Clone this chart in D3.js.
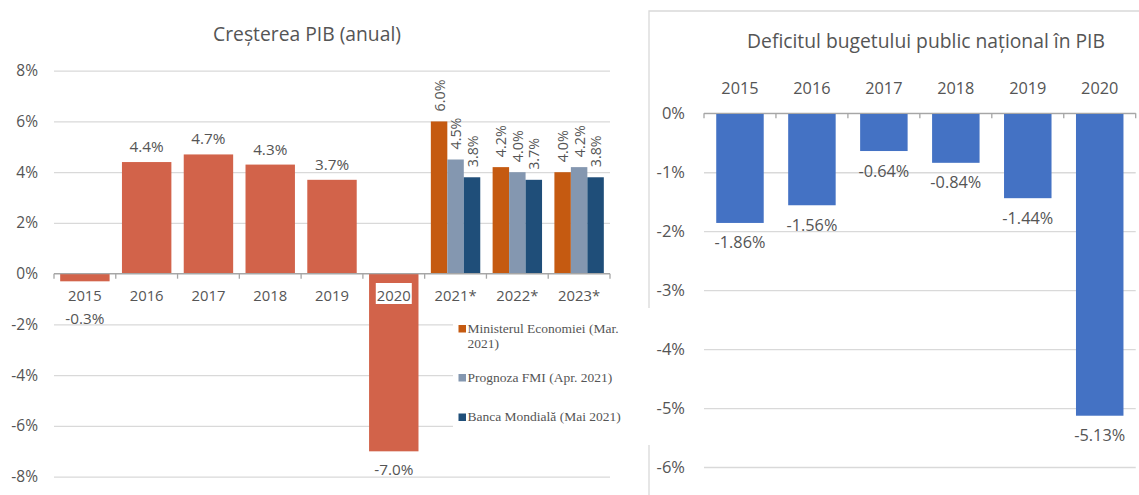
<!DOCTYPE html>
<html>
<head>
<meta charset="utf-8">
<script src="https://cdn.jsdelivr.net/npm/d3@7"></script>
<style>
  body { margin: 0; background: #fff; }
  text { font-family: "Open Sans", sans-serif; fill: #555555; }
</style>
</head>
<body>
<svg id="chart" width="1139" height="495"></svg>
<script>
// left chart: GDP growth
const gdpYears = ["2015", "2016", "2017", "2018", "2019", "2020", "2021*", "2022*", "2023*"];
const gdpActual = [-0.3, 4.4, 4.7, 4.3, 3.7, -7.0, null, null, null];
const forecastNames = ["Ministerul Economiei (Mar. 2021)", "Prognoza FMI (Apr. 2021)", "Banca Mondială (Mai 2021)"];
const forecastMinEc = [6.0, 4.2, 4.0];   // 2021*, 2022*, 2023*
const forecastFmi = [4.5, 4.0, 4.2];
const forecastBm = [3.8, 3.7, 3.8];
const gdpTicks = [-8, -6, -4, -2, 0, 2, 4, 6, 8];

// right chart: budget deficit
const defYears = ["2015", "2016", "2017", "2018", "2019", "2020"];
const defValues = [-1.86, -1.56, -0.64, -0.84, -1.44, -5.13];
const defTicks = [-6, -5, -4, -3, -2, -1, 0];

const svg = d3.select("#chart");
const gridColor = "#d9d9d9";
const axisColor = "#a6a6a6";
const barColor = "#d2634a";
const seriesColors = ["#c55a11", "#8497b0", "#1f4e79"];

// ---------- left chart ----------
const xL = d3.scaleBand().domain(gdpYears).range([54, 610]).paddingInner(0.2).paddingOuter(0.1);
const yL = d3.scaleLinear().domain([-8, 8]).range([476.7, 70.7]);
const xSub = d3.scaleBand().domain(forecastNames).range([0, xL.bandwidth()]);

svg.append("text")
  .attr("x", 307).attr("y", 33)
  .attr("text-anchor", "middle").attr("dominant-baseline", "central")
  .style("font-size", "19.3px")
  .text("Creșterea PIB (anual)");

const gL = svg.append("g");
gL.append("g")
  .attr("transform", "translate(54,0)")
  .call(d3.axisLeft(yL).tickValues(gdpTicks).tickSize(-556).tickPadding(16).tickFormat(d => d + "%"))
  .call(g => g.select(".domain").remove())
  .call(g => g.selectAll("line").attr("stroke", gridColor).attr("stroke-width", 1.3))
  .call(g => g.selectAll("text").style("font-size", "15.5px").attr("fill", "#555555"));

// actual bars
const actual = gdpYears.map((d, i) => ({ year: d, v: gdpActual[i] })).filter(d => d.v != null);
gL.selectAll(".bar").data(actual).enter().append("rect")
  .attr("x", d => xL(d.year))
  .attr("width", xL.bandwidth())
  .attr("y", d => yL(Math.max(0, d.v)))
  .attr("height", d => Math.abs(yL(d.v) - yL(0)))
  .attr("fill", barColor);

// forecast bars
const forecast = [];
[forecastMinEc, forecastFmi, forecastBm].forEach((arr, s) => {
  arr.forEach((v, i) => forecast.push({ year: gdpYears[6 + i], s: s, v: v }));
});
gL.selectAll(".fbar").data(forecast).enter().append("rect")
  .attr("x", d => xL(d.year) + xSub(forecastNames[d.s]))
  .attr("width", xSub.bandwidth())
  .attr("y", d => yL(d.v))
  .attr("height", d => yL(0) - yL(d.v))
  .attr("fill", d => seriesColors[d.s]);

// axis at zero
const y0 = yL(0);
gL.append("line").attr("x1", 54).attr("x2", 610).attr("y1", y0).attr("y2", y0)
  .attr("stroke", axisColor).attr("stroke-width", 1.3);
const bL = gdpYears.map(d => xL(d) - xL.step() * xL.paddingInner() / 2);
bL.push(610);
gL.selectAll(".tk").data(bL).enter().append("line")
  .attr("x1", d => d).attr("x2", d => d).attr("y1", y0).attr("y2", y0 + 5)
  .attr("stroke", axisColor).attr("stroke-width", 1.3);

// category labels
gdpYears.forEach(d => {
  const cx = xL(d) + xL.bandwidth() / 2;
  if (d === "2020") {
    gL.append("rect").attr("x", cx - 18).attr("y", 283).attr("width", 36).attr("height", 21).attr("fill", "#fff");
  }
  gL.append("text")
    .attr("x", cx).attr("y", 294.5)
    .attr("text-anchor", "middle").attr("dominant-baseline", "central")
    .style("font-size", "14.8px")
    .text(d);
});

// value labels
gL.selectAll(".vl").data(actual).enter().append("text")
  .attr("x", d => xL(d.year) + xL.bandwidth() / 2)
  .attr("y", d => d.v >= 0 ? yL(d.v) - 16 : Math.max(yL(d.v) + 18, y0 + 44))
  .attr("text-anchor", "middle").attr("dominant-baseline", "central")
  .style("font-size", "15.3px")
  .text(d => d.v.toFixed(1) + "%");

gL.selectAll(".fl").data(forecast).enter().append("text")
  .attr("transform", d => "translate(" + (xL(d.year) + xSub(forecastNames[d.s]) + xSub.bandwidth() / 2) + "," + (yL(d.v) - 10) + ") rotate(-90)")
  .attr("text-anchor", "start").attr("dominant-baseline", "central")
  .style("font-size", "14.3px")
  .text(d => d.v.toFixed(1) + "%");

// legend
const leg = svg.append("g");
leg.append("rect").attr("x", 453).attr("y", 312).attr("width", 172).attr("height", 125).attr("fill", "#fff");
const legY = [328, 377, 416.5];
forecastNames.forEach((n, i) => {
  leg.append("rect").attr("x", 458.5).attr("y", legY[i] - 3).attr("width", 7.5).attr("height", 7.5).attr("fill", seriesColors[i]);
  const t = leg.append("text")
    .attr("x", 467.5).attr("y", legY[i])
    .attr("dominant-baseline", "central")
    .style("font-family", "'Liberation Serif', 'Times New Roman', serif")
    .style("font-size", "13.5px");
  if (i === 0) {
    t.append("tspan").attr("x", 467.5).text("Ministerul Economiei (Mar.");
    t.append("tspan").attr("x", 467.5).attr("dy", 14.7).text("2021)");
  } else {
    t.text(n);
  }
});

// ---------- right chart ----------
const gR = svg.append("g");
gR.append("path")
  .attr("d", "M649,495 V445 M649,308 V11 H1139")
  .attr("fill", "none").attr("stroke", gridColor).attr("stroke-width", 1.3);

const xR = d3.scaleBand().domain(defYears).range([704, 1135.7]).paddingInner(0.34).paddingOuter(0.17);
const yR = d3.scaleLinear().domain([-6, 0]).range([467, 113.3]);

gR.append("text")
  .attr("x", 926).attr("y", 40)
  .attr("text-anchor", "middle").attr("dominant-baseline", "central")
  .style("font-size", "19.3px")
  .text("Deficitul bugetului public național în PIB");

gR.append("g")
  .attr("transform", "translate(704,0)")
  .call(d3.axisLeft(yR).tickValues(defTicks).tickSize(-431.7).tickPadding(19).tickFormat(d => d + "%"))
  .call(g => g.select(".domain").remove())
  .call(g => g.selectAll("line").attr("stroke", gridColor).attr("stroke-width", 1.3))
  .call(g => g.selectAll("text").style("font-size", "16.5px").attr("fill", "#555555"));

gR.selectAll(".dbar").data(defValues).enter().append("rect")
  .attr("x", (d, i) => xR(defYears[i]))
  .attr("width", xR.bandwidth())
  .attr("y", yR(0))
  .attr("height", d => yR(d) - yR(0))
  .attr("fill", "#4472c4");

const r0 = yR(0);
gR.append("line").attr("x1", 704).attr("x2", 1135.7).attr("y1", r0).attr("y2", r0)
  .attr("stroke", axisColor).attr("stroke-width", 1.3);
const bR = defYears.map(d => xR(d) - xR.step() * xR.paddingInner() / 2);
bR.push(1135.7);
gR.selectAll(".tk").data(bR).enter().append("line")
  .attr("x1", d => d).attr("x2", d => d).attr("y1", r0).attr("y2", r0 + 5)
  .attr("stroke", axisColor).attr("stroke-width", 1.3);

gR.selectAll(".xl").data(defYears).enter().append("text")
  .attr("x", d => xR(d) + xR.bandwidth() / 2).attr("y", 88)
  .attr("text-anchor", "middle").attr("dominant-baseline", "central")
  .style("font-size", "16.3px")
  .text(d => d);

gR.selectAll(".dl").data(defValues).enter().append("text")
  .attr("x", (d, i) => xR(defYears[i]) + xR.bandwidth() / 2)
  .attr("y", d => yR(d) + 19.5)
  .attr("text-anchor", "middle").attr("dominant-baseline", "central")
  .style("font-size", "16.3px")
  .text(d => d.toFixed(2) + "%");
</script>
</body>
</html>
